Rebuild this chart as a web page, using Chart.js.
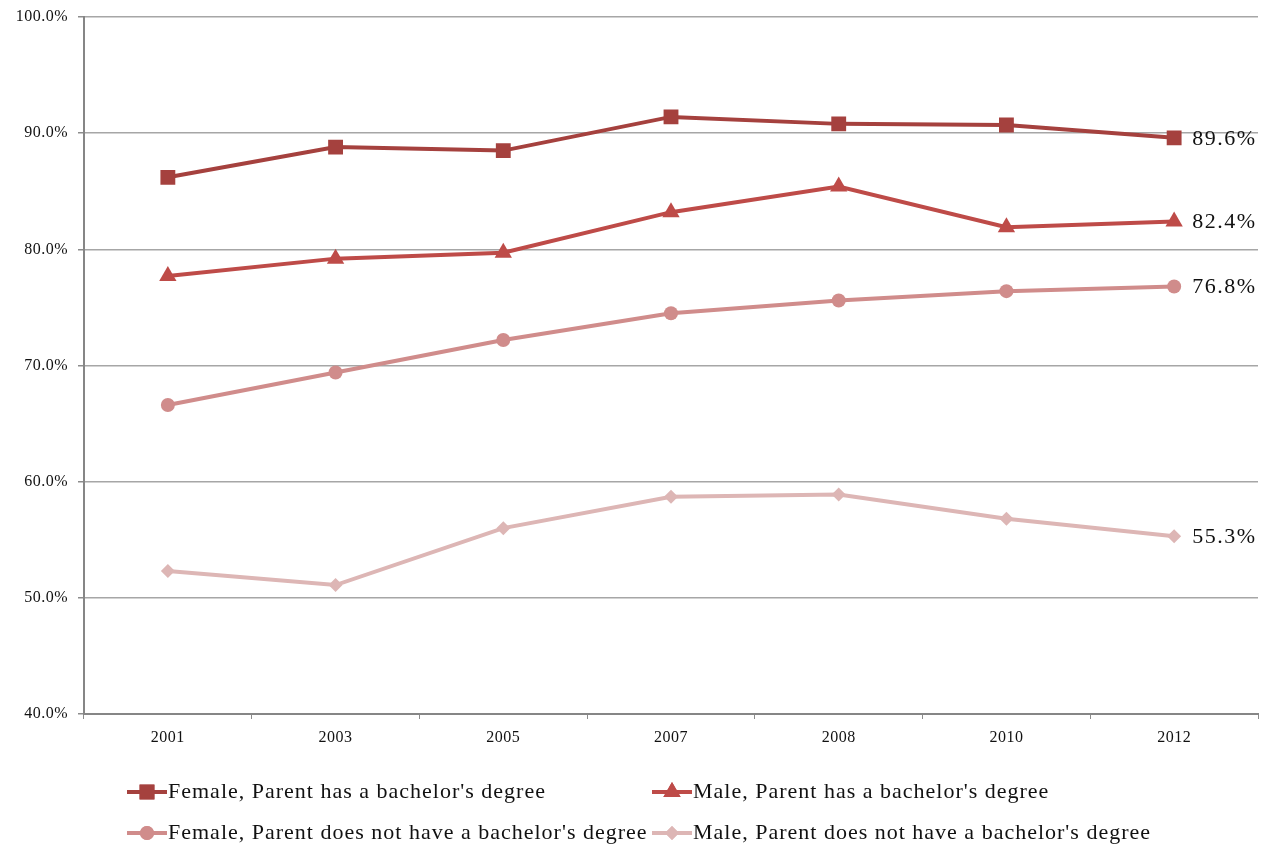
<!DOCTYPE html>
<html>
<head>
<meta charset="utf-8">
<title>Share by gender and parental education</title>
<script src="https://cdn.jsdelivr.net/npm/chart.js@4/dist/chart.umd.min.js"></script>
<style>
  html, body { margin: 0; padding: 0; background: #ffffff; }
  #wrap { position: relative; width: 1265px; height: 848px; }
</style>
</head>
<body>
<div id="wrap"><canvas id="chart" width="1265" height="848"></canvas></div>
<script>
// Survey years on the category axis
const years = ['2001', '2003', '2005', '2007', '2008', '2010', '2012'];

// Percentages per group
const femaleParentDegree   = [86.2, 88.8, 88.5, 91.4, 90.8, 90.7, 89.6];
const maleParentDegree     = [77.7, 79.2, 79.7, 83.2, 85.4, 81.9, 82.4];
const femaleParentNoDegree = [66.6, 69.4, 72.2, 74.5, 75.6, 76.4, 76.8];
const maleParentNoDegree   = [52.3, 51.1, 56.0, 58.7, 58.9, 56.8, 55.3];

const seriesNames = [
  "Female, Parent has a bachelor's degree",
  "Male, Parent has a bachelor's degree",
  "Female, Parent does not have a bachelor's degree",
  "Male, Parent does not have a bachelor's degree"
];

const FONT = "'Liberation Serif', 'Times New Roman', serif";

function series(label, data, color, style, radius) {
  return {
    label, data,
    borderColor: color, backgroundColor: color,
    borderWidth: 4,
    pointStyle: style,
    pointRadius: radius, pointHoverRadius: radius,
    pointBorderWidth: 0,
    tension: 0
  };
}

// Slightly spaced lettering for the axis labels
const spacing = {
  id: 'spacing',
  beforeDraw(chart) { chart.ctx.letterSpacing = '0.5px'; }
};

// End-of-line value labels
const endLabels = {
  id: 'endLabels',
  afterDatasetsDraw(chart) {
    const ctx = chart.ctx;
    ctx.save();
    ctx.font = '22px ' + FONT;
    ctx.letterSpacing = '1.5px';
    ctx.fillStyle = '#111111';
    ctx.textAlign = 'left';
    ctx.textBaseline = 'middle';
    chart.data.datasets.forEach((ds, i) => {
      const meta = chart.getDatasetMeta(i);
      const last = meta.data[meta.data.length - 1];
      const v = ds.data[ds.data.length - 1];
      ctx.fillText(v.toFixed(1) + '%', last.x + 18, last.y + 1);
    });
    ctx.restore();
  }
};

// Two-column legend with line-and-marker swatches
const lineLegend = {
  id: 'lineLegend',
  afterDraw(chart) {
    const ctx = chart.ctx;
    const cols = [127, 652];
    const rows = [792, 833];
    ctx.save();
    ctx.font = '22px ' + FONT;
    ctx.letterSpacing = '1px';
    ctx.textBaseline = 'middle';
    ctx.textAlign = 'left';
    chart.data.datasets.forEach((ds, i) => {
      const x = cols[i % 2];
      const y = rows[Math.floor(i / 2)];
      ctx.strokeStyle = ds.borderColor;
      ctx.lineWidth = 4;
      ctx.beginPath();
      ctx.moveTo(x, y);
      ctx.lineTo(x + 40, y);
      ctx.stroke();
      ctx.fillStyle = ds.backgroundColor;
      Chart.helpers.drawPoint(ctx, {
        pointStyle: ds.pointStyle, radius: ds.pointRadius, rotation: 0, borderWidth: 0
      }, x + 20, y);
      ctx.fill();
      ctx.fillStyle = '#111111';
      ctx.fillText(ds.label, x + 41, y);
    });
    ctx.restore();
  }
};

new Chart(document.getElementById('chart'), {
  type: 'line',
  data: {
    labels: years,
    datasets: [
      series(seriesNames[0], femaleParentDegree,   '#A5413E', 'rect',    10.5),
      series(seriesNames[1], maleParentDegree,     '#BE4B48', 'triangle', 10),
      series(seriesNames[2], femaleParentNoDegree, '#D08C8B', 'circle',   7),
      series(seriesNames[3], maleParentNoDegree,   '#DDB6B5', 'rectRot',  7)
    ]
  },
  options: {
    responsive: false,
    animation: false,
    layout: { autoPadding: false, padding: { top: 17, right: 7, bottom: 0, left: 0 } },
    plugins: {
      legend: { display: false },
      tooltip: { enabled: false }
    },
    scales: {
      x: {
        offset: true,
        grid: {
          offset: true,
          drawOnChartArea: false,
          drawTicks: true,
          tickLength: 5,
          tickColor: '#8C8C8C'
        },
        border: { color: '#868686', width: 2 },
        ticks: { color: '#111111', font: { family: FONT, size: 16 }, padding: 9 },
        afterFit(scale) {
          scale.height = 134;
          scale.paddingLeft = 0;
          scale.paddingRight = 0;
        }
      },
      y: {
        min: 40, max: 100,
        grid: {
          color: '#A6A6A6',
          lineWidth: 1.5,
          drawTicks: true,
          tickLength: 6,
          tickColor: '#8C8C8C'
        },
        border: { color: '#868686', width: 2 },
        ticks: {
          stepSize: 10,
          color: '#111111',
          font: { family: FONT, size: 16 },
          padding: 10,
          callback: v => v.toFixed(1) + '%'
        },
        afterFit(scale) {
          scale.width = 84;
          scale.paddingTop = 0;
          scale.paddingBottom = 0;
        }
      }
    }
  },
  plugins: [spacing, endLabels, lineLegend]
});
</script>
</body>
</html>
